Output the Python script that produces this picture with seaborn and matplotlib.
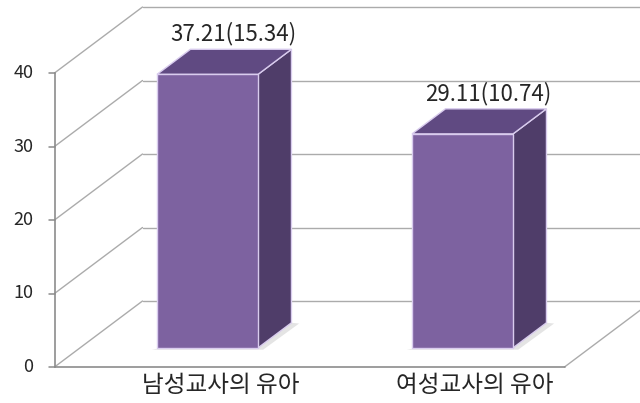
import numpy as np
import matplotlib
matplotlib.use("Agg")
import matplotlib.pyplot as plt
from matplotlib.patches import Polygon
import seaborn as sns

# dati del grafico
categorie = ["남성교사의 유아", "여성교사의 유아"]
medie = [37.21, 29.11]
dev_std = [15.34, 10.74]
etichette = [f"{m:.2f}({s:.2f})" for m, s in zip(medie, dev_std)]
yticks = [0, 10, 20, 30, 40]

sns.set_style("white")
plt.rcParams['font.family'] = ['Noto Sans CJK KR', 'DejaVu Sans']

# colori
c_front = "#7D62A0"
c_side = "#4F3D69"
c_top = "#604A82"
c_edge = "#D9CCEE"
c_grid = "#ABABAB"

# scala: pixel per categoria / per unità
PX_CAT = 255.0
PX_VAL = 7.35
DX = 88 / PX_CAT      # profondità totale in unità categoria
DY = 66 / PX_VAL      # profondità totale in unità valore
f0, f1 = 0.29, 0.67   # profondità fronte / retro delle barre
x_left, x_right = -0.5, 1.5

fig = plt.figure(figsize=(6.4, 4.03), dpi=100)
ax = fig.add_axes([0, 0, 1, 1])

# pareti e griglia
for t in yticks:
    ax.plot([x_left, x_left + DX], [t, t + DY], color=c_grid, lw=1.0, zorder=1)
    ax.plot([x_left + DX, x_right + DX + 1], [t + DY, t + DY], color=c_grid, lw=1.0, zorder=1)
    ax.plot([x_left - 6 / PX_CAT, x_left], [t, t], color="#8C8C8C", lw=1.1, zorder=2)
    ax.text(x_left - 21 / PX_CAT, t, str(t), ha="right", va="center", fontsize=13, color="#262626")
# pavimento
ax.plot([x_left, x_right], [0, 0], color="#8C8C8C", lw=1.2, zorder=2)
ax.plot([x_right, x_right + DX], [0, DY], color=c_grid, lw=1.0, zorder=1)
ax.plot([x_left, x_left], [0, yticks[-1]], color="#8C8C8C", lw=1.2, zorder=2)

# barre frontali con seaborn
sns.barplot(x=categorie, y=medie, width=101 / PX_CAT, color=c_front,
            edgecolor=c_edge, linewidth=1.0, saturation=1, ax=ax, zorder=5)

d = f1 - f0
for i, p in enumerate(ax.patches):
    x0 = p.get_x() + f0 * DX
    y0 = f0 * DY
    w = p.get_width()
    h = p.get_height()
    p.set_x(x0)
    p.set_y(y0)
    xr = x0 + w
    yt = y0 + h
    # ombra leggera alla base
    ombra = Polygon([(x0 - 0.02, y0 - 0.25), (xr + 0.02, y0 - 0.25),
                     (xr + d * DX + 0.03, y0 + d * DY - 0.1), (xr + d * DX, y0 + d * DY)],
                    closed=True, facecolor="#E4E4E4", edgecolor="none", zorder=3)
    side = Polygon([(xr, y0), (xr + d * DX, y0 + d * DY), (xr + d * DX, yt + d * DY), (xr, yt)],
                   closed=True, facecolor=c_side, edgecolor=c_edge, lw=1.0, zorder=4)
    top = Polygon([(x0, yt), (xr, yt), (xr + d * DX, yt + d * DY), (x0 + d * DX, yt + d * DY)],
                  closed=True, facecolor=c_top, edgecolor=c_edge, lw=1.0, zorder=4)
    ax.add_patch(ombra)
    ax.add_patch(side)
    ax.add_patch(top)
    ax.text(x0 + w / 2 + 0.1, yt + d * DY + 2.1, etichette[i], ha="center", va="center",
            fontsize=16, color="#262626")
    ax.text(i + 0.15, -2.5, categorie[i], ha="center", va="center", fontsize=17, color="#262626")

ax.set_xlim(-182 / PX_CAT, (640 - 182) / PX_CAT)
ax.set_ylim(-36 / PX_VAL, (403 - 36) / PX_VAL)
ax.axis("off")

fig.savefig("out.png", dpi=100)
